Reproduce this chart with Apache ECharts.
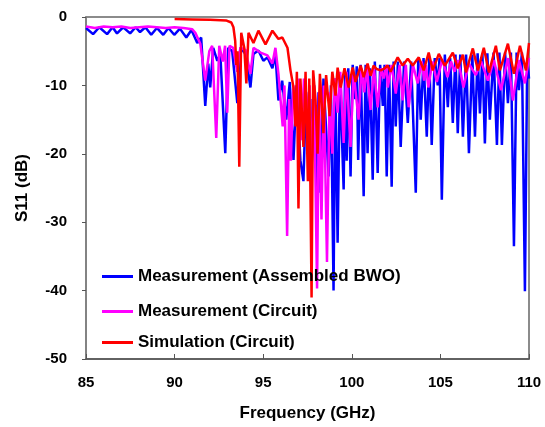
<!DOCTYPE html>
<html>
<head>
<meta charset="utf-8">
<script src="https://cdn.jsdelivr.net/npm/echarts@6/dist/echarts.min.js"></script>
<style>
html,body{margin:0;padding:0;background:#fff;}
#chart{width:545px;height:427px;}
</style>
</head>
<body>
<div id="chart"></div>
<script>
// Series names
const seriesNames = ['Measurement (Assembled BWO)', 'Measurement (Circuit)', 'Simulation (Circuit)'];
// Axis ticks
const xTicks = [85, 90, 95, 100, 105, 110];
const yTicks = [0, -10, -20, -30, -40, -50];

// [frequency GHz, S11 dB]
const measBWO = [
[85.0,-1.6],[85.4,-2.5],[85.75,-1.5],[86.19,-2.5],[86.5,-1.5],[86.75,-2.4],[87.1,-1.5],[87.49,-2.4],[87.8,-1.5],[88.05,-2.2],[88.35,-1.5],[88.68,-2.6],[89.0,-1.6],[89.36,-2.6],[89.65,-1.6],[89.98,-2.6],[90.3,-1.7],[90.66,-3.0],[90.95,-1.9],[91.28,-3.8],[91.5,-3.0],[91.73,-13.0],[91.9,-6.8],[92.01,-10.3],[92.18,-4.5],[92.41,-6.4],[92.58,-5.4],[92.86,-19.9],[93.03,-4.5],[93.25,-5.0],[93.54,-12.6],[93.71,-4.5],[94.0,-5.4],[94.28,-10.3],[94.45,-5.4],[94.73,-4.9],[95.01,-6.4],[95.24,-5.9],[95.52,-7.5],[95.69,-5.4],[95.86,-12.2],[96.07,-9.3],[96.3,-15.0],[96.5,-9.5],[96.71,-20.9],[96.88,-10.0],[97.1,-21.0],[97.27,-24.0],[97.42,-11.0],[97.56,-21.0],[97.66,-12.0],[97.73,-22.3],[97.87,-10.0],[98.01,-24.8],[98.12,-11.0],[98.24,-25.7],[98.4,-9.0],[98.69,-23.3],[98.82,-10.0],[98.97,-40.0],[99.07,-9.0],[99.2,-33.0],[99.33,-8.5],[99.54,-25.2],[99.62,-8.0],[99.71,-21.0],[99.8,-7.5],[99.93,-23.3],[100.05,-7.0],[100.2,-12.0],[100.28,-7.2],[100.36,-20.9],[100.5,-7.0],[100.67,-26.2],[100.78,-7.0],[100.89,-19.9],[101.02,-7.5],[101.18,-23.8],[101.3,-6.5],[101.46,-22.8],[101.6,-7.0],[101.75,-13.0],[101.85,-7.0],[101.97,-23.3],[102.1,-7.0],[102.25,-24.8],[102.36,-6.5],[102.48,-16.0],[102.6,-6.5],[102.76,-19.0],[102.95,-6.5],[103.16,-15.5],[103.35,-6.5],[103.61,-25.7],[103.75,-6.2],[103.89,-15.0],[104.05,-6.0],[104.23,-17.5],[104.37,-6.0],[104.51,-18.7],[104.68,-6.0],[104.85,-10.0],[104.95,-6.0],[105.08,-26.7],[105.25,-5.5],[105.42,-13.2],[105.55,-6.0],[105.7,-15.5],[105.85,-5.5],[105.98,-17.0],[106.12,-5.5],[106.27,-17.5],[106.45,-5.5],[106.61,-19.9],[106.8,-5.5],[106.95,-17.5],[107.1,-5.3],[107.23,-14.1],[107.37,-5.3],[107.51,-18.5],[107.65,-5.3],[107.79,-15.0],[108.0,-5.2],[108.19,-18.7],[108.33,-5.2],[108.47,-18.7],[108.65,-5.2],[108.81,-12.6],[108.98,-5.2],[109.15,-33.5],[109.3,-5.2],[109.43,-10.7],[109.6,-5.2],[109.77,-40.1],[109.9,-6.0],[110.0,-9.0]
];
const measCircuit = [
[85.0,-1.4],[85.5,-1.6],[86.0,-1.4],[86.5,-1.5],[87.0,-1.4],[87.5,-1.6],[88.0,-1.5],[88.5,-1.4],[89.0,-1.5],[89.5,-1.6],[90.0,-1.5],[90.5,-1.6],[91.0,-1.8],[91.17,-2.3],[91.45,-3.9],[91.73,-9.3],[91.96,-5.0],[92.12,-4.2],[92.35,-17.7],[92.52,-4.2],[92.72,-6.5],[92.85,-4.2],[92.97,-14.0],[93.1,-4.2],[93.3,-4.5],[93.54,-8.0],[93.71,-4.5],[94.0,-4.8],[94.28,-8.3],[94.45,-4.5],[94.85,-5.2],[95.24,-5.6],[95.52,-6.8],[95.69,-4.5],[95.86,-8.3],[96.1,-16.0],[96.2,-10.0],[96.35,-32.0],[96.47,-12.0],[96.56,-21.0],[96.7,-10.0],[96.82,-14.0],[96.97,-9.0],[97.15,-18.0],[97.3,-9.0],[97.5,-14.0],[97.62,-10.0],[97.73,-22.3],[97.87,-10.0],[98.04,-39.7],[98.15,-11.0],[98.29,-29.6],[98.42,-10.0],[98.6,-35.8],[98.75,-11.0],[98.9,-20.0],[99.05,-9.0],[99.2,-14.0],[99.35,-8.0],[99.54,-18.4],[99.7,-8.0],[99.93,-19.0],[100.1,-8.0],[100.38,-15.0],[100.55,-7.5],[100.7,-11.0],[100.85,-7.5],[101.06,-13.6],[101.25,-7.5],[101.46,-13.2],[101.65,-7.5],[101.8,-9.0],[101.95,-7.0],[102.03,-10.3],[102.25,-7.0],[102.48,-11.2],[102.7,-7.0],[102.87,-12.2],[103.05,-7.0],[103.21,-13.2],[103.45,-7.0],[103.72,-9.7],[103.95,-6.5],[104.08,-9.3],[104.18,-7.0],[104.32,-10.3],[104.55,-6.5],[104.8,-9.5],[105.1,-6.2],[105.4,-8.8],[105.6,-6.5],[105.8,-8.0],[106.0,-6.3],[106.3,-10.3],[106.6,-6.8],[107.0,-8.5],[107.3,-6.5],[107.68,-9.3],[108.02,-6.3],[108.42,-10.7],[108.81,-6.0],[109.09,-12.2],[109.43,-6.3],[109.77,-9.7],[110.0,-6.0]
];
const simCircuit = [
[90.0,-0.3],[91.0,-0.35],[92.0,-0.4],[92.9,-0.5],[93.2,-0.8],[93.32,-1.5],[93.42,-3.5],[93.48,-7.0],[93.55,-5.0],[93.65,-21.9],[93.76,-2.3],[93.93,-4.5],[94.05,-9.7],[94.17,-2.3],[94.45,-3.8],[94.73,-2.0],[95.13,-4.0],[95.52,-2.0],[95.86,-3.2],[96.08,-3.0],[96.37,-4.5],[96.54,-7.8],[96.71,-10.3],[96.82,-16.0],[96.9,-8.0],[96.99,-28.0],[97.1,-9.0],[97.27,-19.0],[97.39,-8.0],[97.52,-24.0],[97.6,-9.0],[97.73,-41.0],[97.82,-7.8],[97.95,-12.0],[98.07,-20.0],[98.2,-8.3],[98.4,-17.0],[98.55,-8.5],[98.75,-14.5],[98.9,-8.0],[99.08,-11.5],[99.2,-7.4],[99.37,-10.3],[99.59,-7.5],[99.82,-10.3],[100.05,-7.4],[100.21,-9.5],[100.5,-7.1],[100.67,-8.8],[100.89,-6.8],[101.06,-8.6],[101.23,-7.1],[101.4,-7.6],[101.63,-7.8],[101.8,-7.6],[102.02,-7.1],[102.19,-8.0],[102.59,-5.9],[102.87,-7.1],[103.16,-6.1],[103.44,-7.1],[103.78,-5.9],[104.06,-7.8],[104.34,-5.2],[104.57,-7.8],[104.91,-5.4],[105.25,-7.1],[105.7,-5.2],[105.98,-7.5],[106.27,-5.5],[106.44,-8.1],[106.83,-4.6],[107.12,-7.8],[107.45,-4.5],[107.74,-8.1],[108.13,-4.2],[108.36,-7.8],[108.81,-3.9],[109.15,-8.3],[109.49,-4.2],[109.83,-7.8],[110.0,-3.8]
];

const colors = ['#0000ff', '#ff00ff', '#ff0000'];
const FONT = 'Arial, "Liberation Sans", sans-serif';

const chart = echarts.init(document.getElementById('chart'), null, {renderer: 'canvas'});

function legendAt(i, top) {
  return {
    data: [seriesNames[i]], left: 102, top: top, padding: 0,
    icon: 'rect', itemWidth: 31, itemHeight: 3,
    textStyle: {fontFamily: FONT, fontWeight: 'bold', fontSize: 17, color: '#000'},
    selectedMode: false
  };
}

chart.setOption({
  animation: false,
  backgroundColor: '#fff',
  grid: {left: 86, top: 17, right: 16, bottom: 65, show: true, borderColor: '#666', borderWidth: 1.5},
  legend: [legendAt(0, 268), legendAt(1, 303), legendAt(2, 334)],
  xAxis: {
    type: 'value', min: xTicks[0], max: xTicks[xTicks.length - 1], interval: 5,
    name: 'Frequency (GHz)', nameLocation: 'middle', nameGap: 46,
    nameTextStyle: {fontFamily: FONT, fontWeight: 'bold', fontSize: 17, color: '#000'},
    axisLine: {onZero: false, lineStyle: {color: '#555', width: 1.5}},
    axisTick: {inside: true, length: 5, lineStyle: {color: '#555'}},
    axisLabel: {fontFamily: FONT, fontWeight: 'bold', fontSize: 15, color: '#000', margin: 16},
    splitLine: {show: false}
  },
  yAxis: {
    type: 'value', min: yTicks[yTicks.length - 1], max: yTicks[0], interval: 10,
    name: 'S11 (dB)', nameLocation: 'middle', nameGap: 55, nameRotate: 90,
    nameTextStyle: {fontFamily: FONT, fontWeight: 'bold', fontSize: 17, color: '#000'},
    axisLine: {onZero: false, lineStyle: {color: '#808080', width: 1.5}},
    axisTick: {inside: false, length: 4, lineStyle: {color: '#555'}},
    axisLabel: {fontFamily: FONT, fontWeight: 'bold', fontSize: 15, color: '#000', margin: 19},
    splitLine: {show: false}
  },
  series: [
    {name: seriesNames[0], type: 'line', data: measBWO, showSymbol: false, color: colors[0], lineStyle: {width: 2.5, color: colors[0]}},
    {name: seriesNames[1], type: 'line', data: measCircuit, showSymbol: false, color: colors[1], lineStyle: {width: 2.5, color: colors[1]}},
    {name: seriesNames[2], type: 'line', data: simCircuit, showSymbol: false, color: colors[2], lineStyle: {width: 2.5, color: colors[2]}}
  ]
});
</script>
</body>
</html>
